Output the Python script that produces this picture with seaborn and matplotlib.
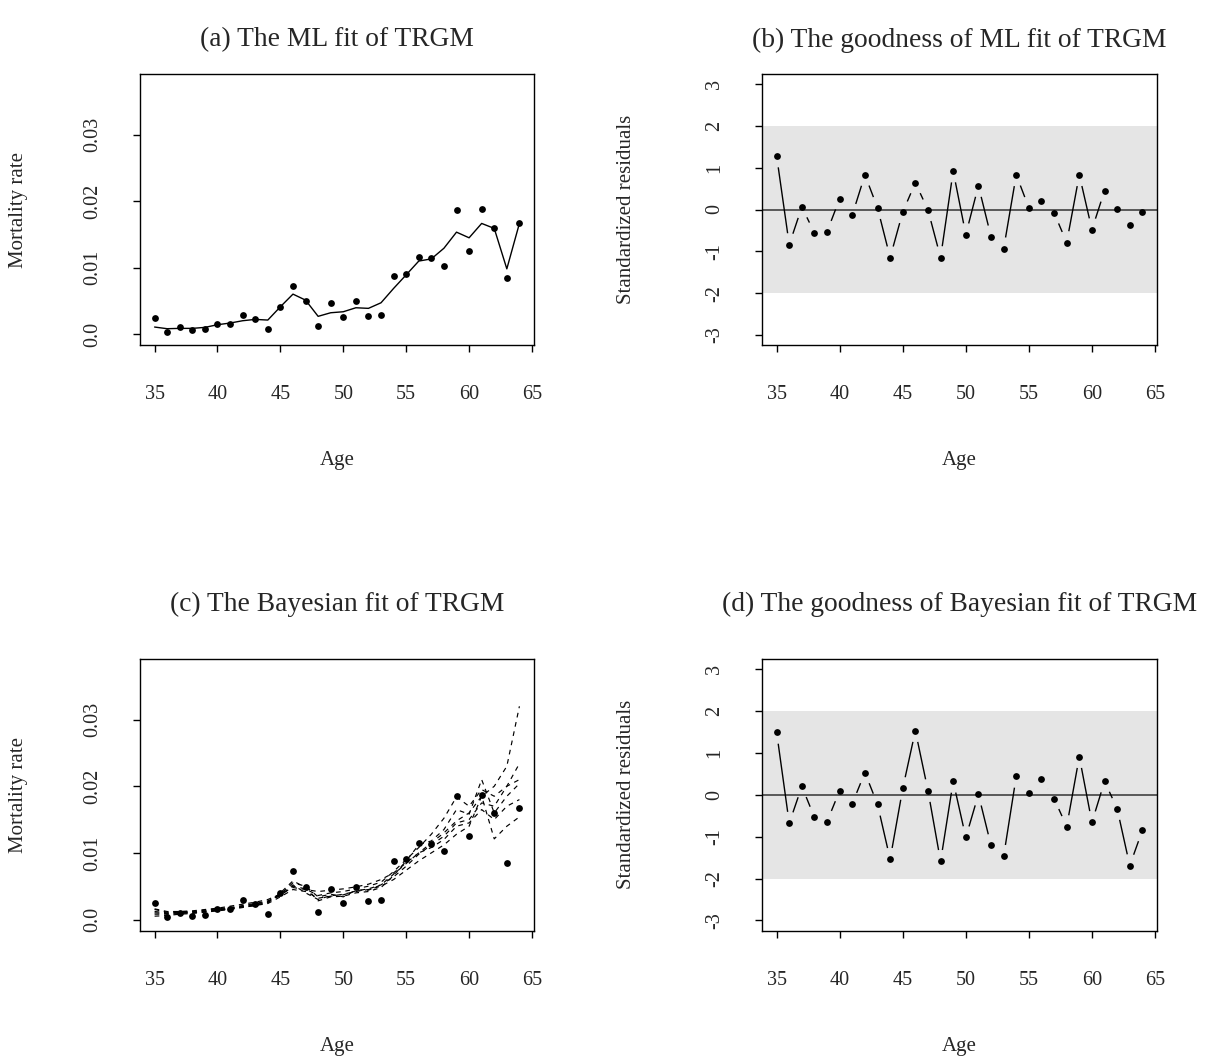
import numpy as np
import pandas as pd
import matplotlib
matplotlib.use("Agg")
import matplotlib.pyplot as plt
from matplotlib.collections import LineCollection
import seaborn as sns

# ---------------- data ----------------
ages = list(range(35, 65))

observed_rate = [0.00245, 0.00035, 0.0010, 0.00055, 0.0007, 0.00155, 0.00155, 0.0029, 0.0023, 0.0008,
                 0.0040, 0.00726, 0.0049, 0.00115, 0.0046, 0.0025, 0.0049, 0.00275, 0.0029, 0.0088,
                 0.0091, 0.01152, 0.01137, 0.0103, 0.01858, 0.01251, 0.01873, 0.0160, 0.00846, 0.01672]

ml_fit = [0.00105, 0.0008, 0.00085, 0.00085, 0.0010, 0.0014, 0.00165, 0.0020, 0.0022, 0.0021,
          0.0041, 0.0060, 0.0051, 0.00266, 0.0032, 0.00335, 0.00395, 0.00386, 0.0047, 0.00686,
          0.0089, 0.01097, 0.0113, 0.0129, 0.01532, 0.01447, 0.01663, 0.01588, 0.0098, 0.01663]

ml_resid = [1.28, -0.84, 0.06, -0.56, -0.53, 0.26, -0.13, 0.83, 0.04, -1.15,
            -0.06, 0.64, -0.01, -1.15, 0.92, -0.60, 0.57, -0.65, -0.94, 0.83,
            0.04, 0.21, -0.08, -0.79, 0.83, -0.48, 0.45, 0.02, -0.36, -0.05]

bayes_resid = [1.49, -0.68, 0.20, -0.54, -0.64, 0.10, -0.21, 0.53, -0.23, -1.54,
               0.15, 1.53, 0.10, -1.59, 0.32, -1.02, 0.01, -1.21, -1.47, 0.44,
               0.03, 0.37, -0.09, -0.76, 0.91, -0.66, 0.32, -0.33, -1.69, -0.85]

bayes_fit_1 = [0.0015, 0.0011, 0.0012, 0.0013, 0.0015, 0.0017, 0.0020, 0.0023, 0.0026, 0.0030,
               0.0038, 0.0048, 0.0045, 0.0042, 0.0044, 0.0046, 0.0049, 0.0053, 0.0060, 0.0070,
               0.0085, 0.0100, 0.0115, 0.0130, 0.0148, 0.0160, 0.0185, 0.0200, 0.0230, 0.0320]
bayes_fit_2 = [0.0010, 0.0009, 0.0010, 0.0011, 0.0013, 0.0015, 0.0017, 0.0020, 0.0023, 0.0027,
               0.0036, 0.0052, 0.0040, 0.0030, 0.0036, 0.0037, 0.0043, 0.0046, 0.0052, 0.0064,
               0.0080, 0.0098, 0.0112, 0.0125, 0.0145, 0.0150, 0.0175, 0.0170, 0.0200, 0.0234]
bayes_fit_3 = [0.0008, 0.0008, 0.0009, 0.0010, 0.0012, 0.0014, 0.0016, 0.0019, 0.0022, 0.0025,
               0.0040, 0.0058, 0.0048, 0.0028, 0.0034, 0.0035, 0.0040, 0.0042, 0.0048, 0.0066,
               0.0088, 0.0112, 0.0118, 0.0135, 0.0165, 0.0158, 0.0210, 0.0160, 0.0185, 0.0204]
bayes_fit_4 = [0.0012, 0.0010, 0.0011, 0.0011, 0.0012, 0.0014, 0.0016, 0.0019, 0.0021, 0.0024,
               0.0034, 0.0045, 0.0042, 0.0032, 0.0035, 0.0038, 0.0042, 0.0045, 0.0050, 0.0060,
               0.0074, 0.0088, 0.0100, 0.0112, 0.0128, 0.0140, 0.0185, 0.0121, 0.0140, 0.0154]
bayes_fit_5 = [0.0016, 0.0012, 0.0012, 0.0012, 0.0014, 0.0016, 0.0018, 0.0021, 0.0024, 0.0028,
               0.0036, 0.0050, 0.0046, 0.0036, 0.0040, 0.0042, 0.0046, 0.0050, 0.0056, 0.0072,
               0.0090, 0.0108, 0.0128, 0.0152, 0.0184, 0.0170, 0.0195, 0.0185, 0.0200, 0.0210]
bayes_fit_6 = [0.0005, 0.0006, 0.0008, 0.0009, 0.0011, 0.0013, 0.0015, 0.0018, 0.0021, 0.0026,
               0.0038, 0.0055, 0.0050, 0.0034, 0.0038, 0.0034, 0.0044, 0.0044, 0.0052, 0.0068,
               0.0084, 0.0100, 0.0108, 0.0120, 0.0140, 0.0145, 0.0165, 0.0150, 0.0170, 0.0180]
bayes_fits = [bayes_fit_1, bayes_fit_2, bayes_fit_3, bayes_fit_4, bayes_fit_5, bayes_fit_6]

x_ticks = [35, 40, 45, 50, 55, 60, 65]
rate_ticks = [0.0, 0.01, 0.02, 0.03]
rate_tick_labels = ["0.0", "0.01", "0.02", "0.03"]
resid_ticks = [-3, -2, -1, 0, 1, 2, 3]
resid_tick_labels = ["-3", "-2", "-1", "0", "1", "2", "3"]

titles = ["(a) The ML fit of TRGM", "(b) The goodness of ML fit of TRGM",
          "(c) The Bayesian fit of TRGM", "(d) The goodness of Bayesian fit of TRGM"]

# ---------------- style ----------------
sns.set_style("white")
plt.rcParams['font.family'] = ['Liberation Serif', 'DejaVu Serif']
plt.rcParams['axes.linewidth'] = 1.0
plt.rcParams['axes.edgecolor'] = 'black'

W, H = 1207, 1063
fig = plt.figure(figsize=(W / 100, H / 100), dpi=100)

def axes_px(l, t, r, b):
    return fig.add_axes([l / W, 1 - b / H, (r - l) / W, (b - t) / H])

ax_a = axes_px(140, 74, 534, 345)
ax_b = axes_px(762, 74, 1157, 345)
ax_c = axes_px(140, 659, 534, 930.5)
ax_d = axes_px(762, 659, 1157, 930.5)

XLIM = (33.84, 65.16)
TICK_FS = 14.5
LAB_FS = 15
TITLE_FS = 19.8

def style_axes(ax, yticks, yticklabels, ylim, ylabel, title, ylab_px, title_dy_px, top_px, bot_px):
    ax.set_xlim(*XLIM)
    ax.set_ylim(*ylim)
    ax.set_xticks(x_ticks)
    ax.set_xticklabels([str(t) for t in x_ticks])
    ax.set_yticks(yticks)
    ax.set_yticklabels(yticklabels)
    ax.tick_params(axis='both', direction='out', length=5, width=1.0, labelsize=TICK_FS,
                   color='black', bottom=True, left=True)
    ax.tick_params(axis='x', pad=24)
    ax.tick_params(axis='y', pad=22)
    for lab in ax.get_yticklabels():
        lab.set_rotation(90)
        lab.set_va('center')
        lab.set_ha('right')
    for s in ax.spines.values():
        s.set_visible(True)
        s.set_color('black')
        s.set_linewidth(1.0)
    ax.grid(False)
    h = bot_px - top_px
    ax.set_xlabel("Age", fontsize=LAB_FS)
    ax.xaxis.set_label_coords(0.5, -(116 / h))
    ax.xaxis.label.set_va('center')
    ax.set_ylabel(ylabel, fontsize=LAB_FS)
    ax.yaxis.set_label_coords(-(ylab_px / 394.5), 0.5)
    ax.yaxis.label.set_va('center')
    ax.text(0.5, 1 + title_dy_px / h, title, transform=ax.transAxes, ha='center',
            va='center', fontsize=TITLE_FS)

def gapped_lines(ax, x, y, gap_px=11.5, **kw):
    pts = ax.transData.transform(np.column_stack([x, y]))
    inv = ax.transData.inverted()
    segs = []
    for p0, p1 in zip(pts[:-1], pts[1:]):
        d = p1 - p0
        L = np.hypot(*d)
        if L > 2 * gap_px:
            u = d / L
            a = p0 + u * gap_px
            b = p1 - u * gap_px
            segs.append(inv.transform(np.vstack([a, b])))
    ax.add_collection(LineCollection(segs, **kw))

df = pd.DataFrame({"age": ages, "obs": observed_rate, "ml": ml_fit,
                   "ml_res": ml_resid, "bayes_res": bayes_resid})

# ---------- (a) ----------
sns.lineplot(data=df, x="age", y="ml", ax=ax_a, color="black", linewidth=1.0,
             estimator=None, sort=False, legend=False)
sns.scatterplot(data=df, x="age", y="obs", ax=ax_a, color="black", s=24,
                edgecolor="black", linewidth=0, legend=False, zorder=4)
style_axes(ax_a, rate_ticks, rate_tick_labels, (-0.00165, 0.0391), "Mortality rate",
           titles[0], 122, 34, 74, 345)

# ---------- (c) ----------
for fit in bayes_fits:
    sns.lineplot(x=ages, y=fit, ax=ax_c, color="black", linewidth=0.85,
                 estimator=None, sort=False, legend=False, dashes=False)
for ln in ax_c.get_lines():
    ln.set_linestyle((0, (4, 4)))
sns.scatterplot(data=df, x="age", y="obs", ax=ax_c, color="black", s=24,
                edgecolor="black", linewidth=0, legend=False, zorder=4)
style_axes(ax_c, rate_ticks, rate_tick_labels, (-0.00165, 0.0391), "Mortality rate",
           titles[2], 122, 55, 659, 930.5)

# ---------- (b), (d) ----------
for ax, col, title in [(ax_b, "ml_res", titles[1]), (ax_d, "bayes_res", titles[3])]:
    top, bot = (74, 345) if ax is ax_b else (659, 930.5)
    ax.axhspan(-2, 2, color="#e5e5e5", lw=0, zorder=0)
    ax.axhline(0, color="#333333", lw=1.1, zorder=2)
    sns.scatterplot(data=df, x="age", y=col, ax=ax, color="black", s=24,
                    edgecolor="black", linewidth=0, legend=False, zorder=4)
    style_axes(ax, resid_ticks, resid_tick_labels, (-3.24, 3.24), "Standardized residuals",
               title, 135, 34 if ax is ax_b else 55, top, bot)
    gapped_lines(ax, df["age"].values, df[col].values, colors="black", linewidths=1.0, zorder=3)

fig.savefig("out.png", dpi=100)
